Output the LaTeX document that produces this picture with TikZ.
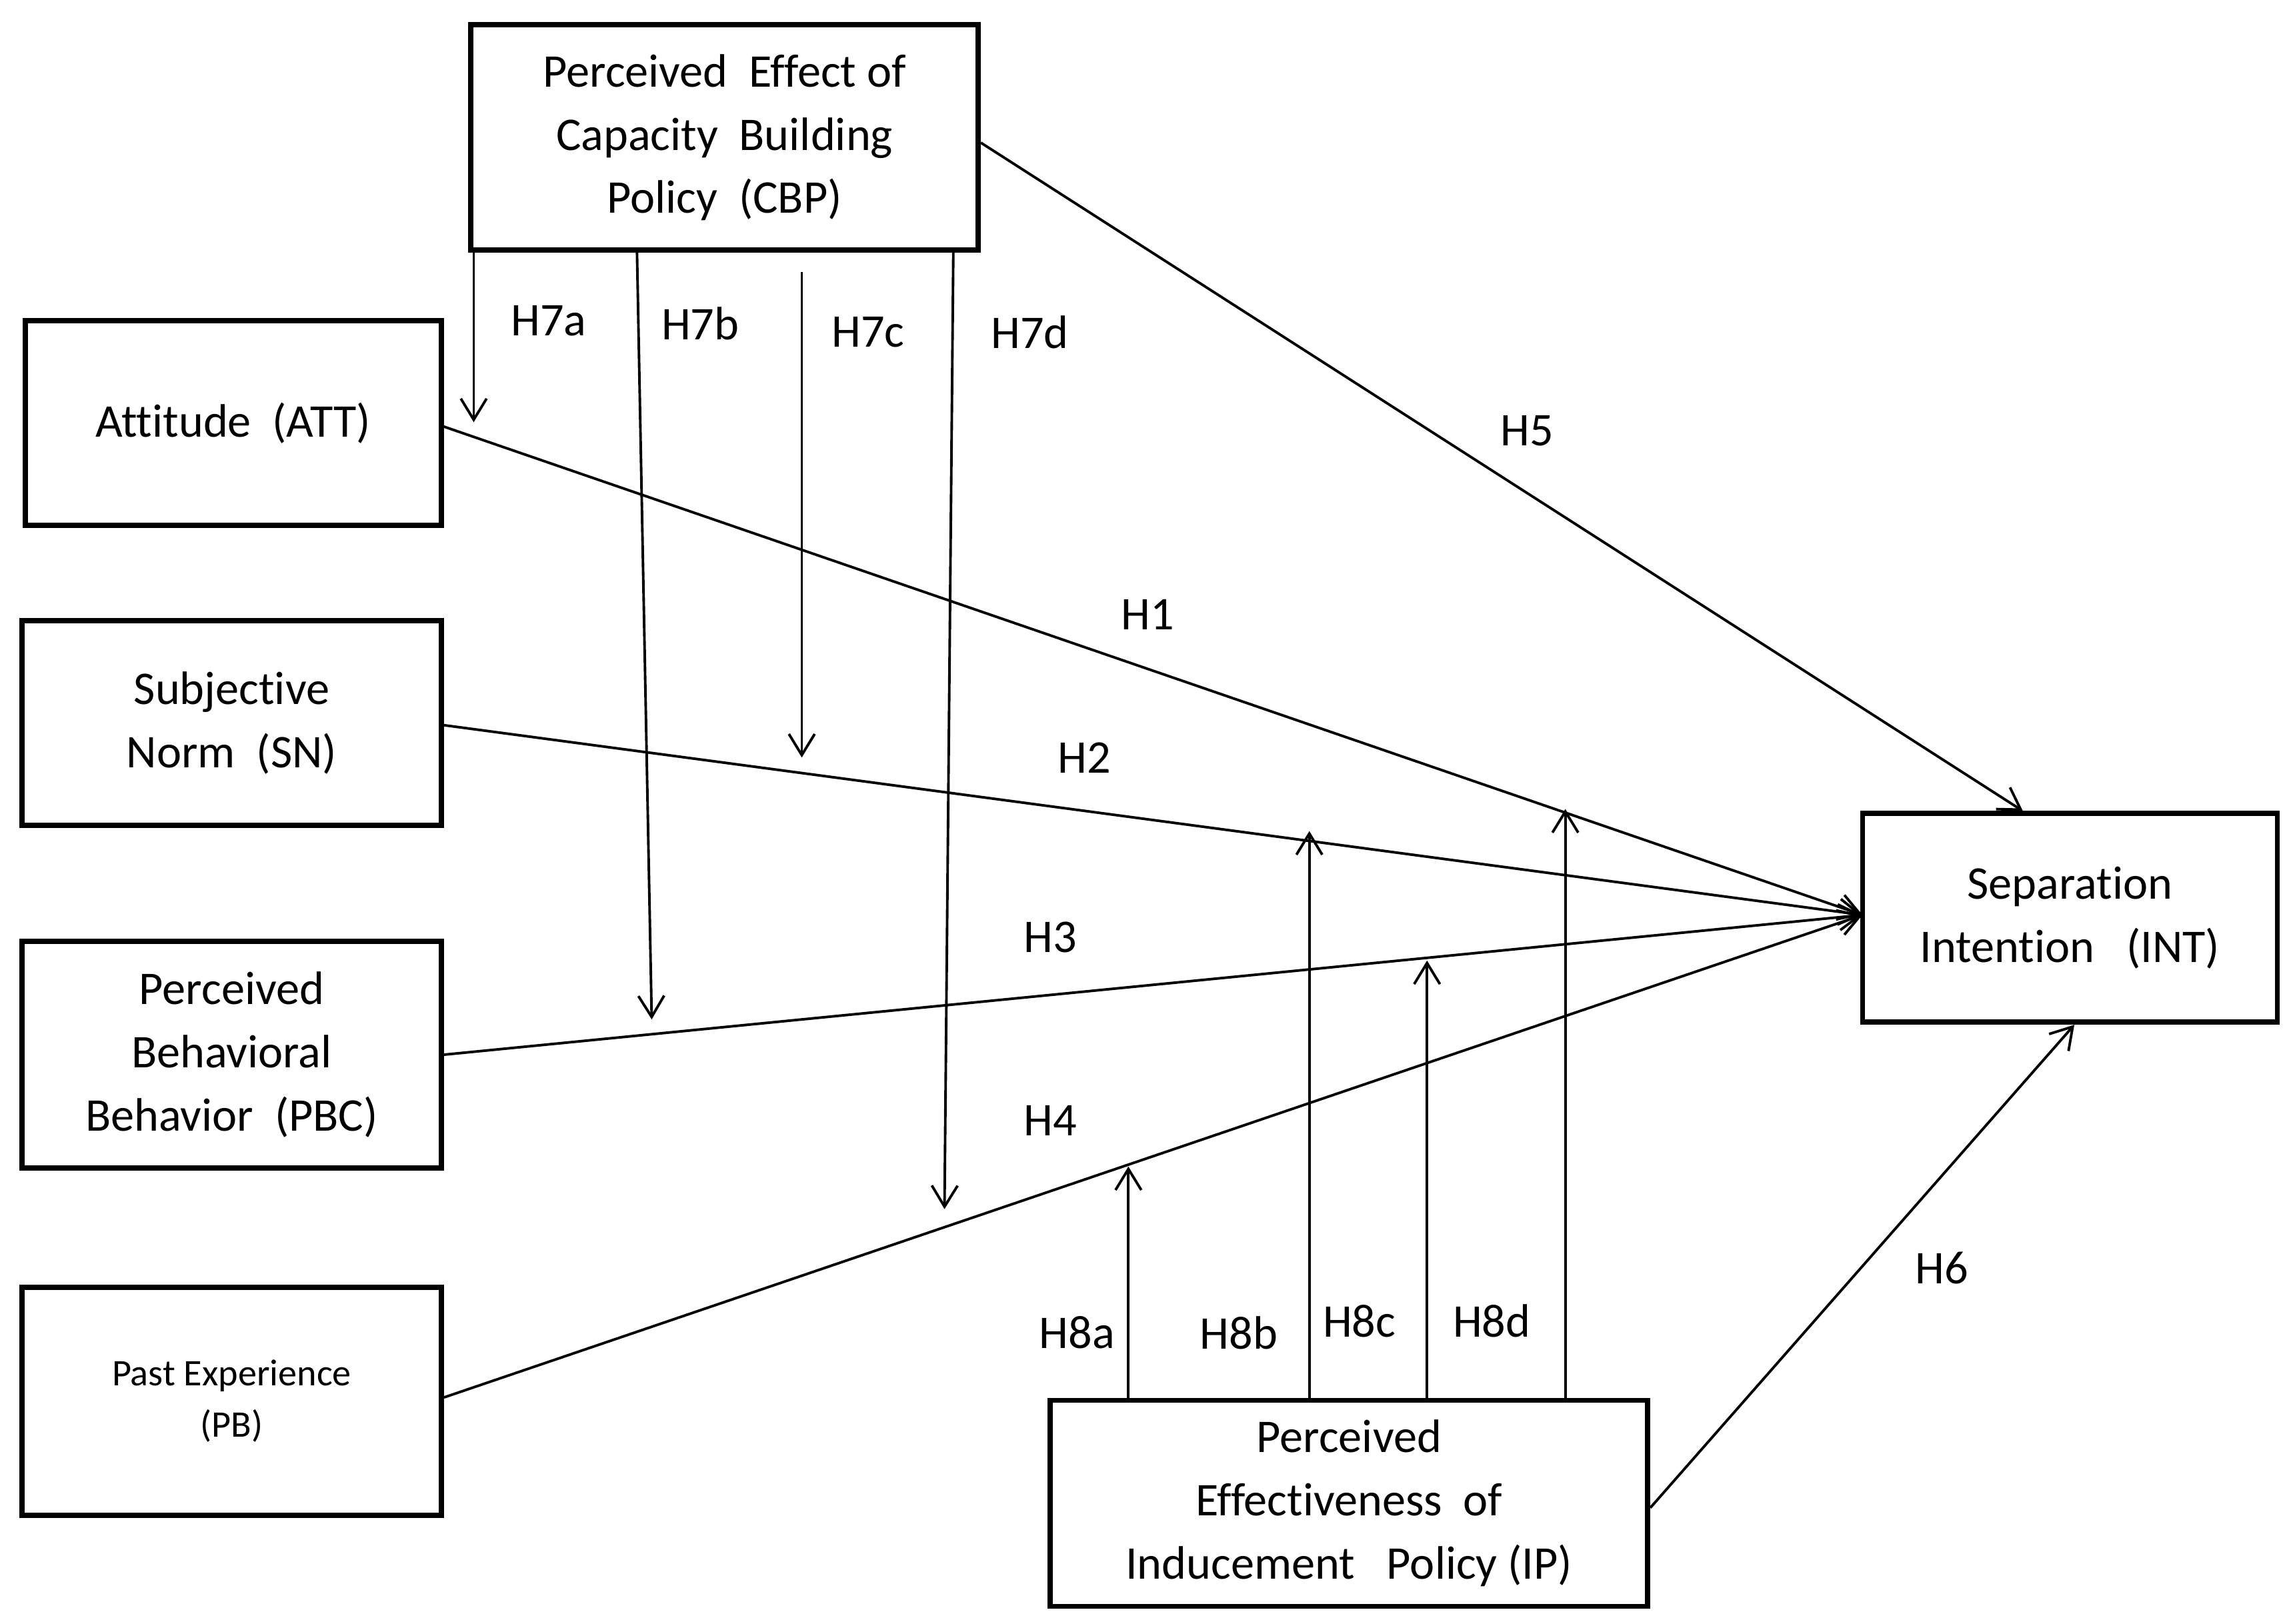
\documentclass[tikz,border=0pt]{standalone}
\usepackage{fontspec}
\setmainfont{Carlito}[Ligatures=NoCommon]
\usetikzlibrary{arrows.meta}
\begin{document}
\begin{tikzpicture}[x=0.02206cm,y=-0.02206cm,
 box/.style={draw,line width=2.2pt,inner sep=0,align=center,font=\fontsize{20}{27}\selectfont},
 arr/.style={line width=1.1pt,-{Straight Barb[length=9pt,width=11pt]}},
 lab/.style={font=\fontsize{20}{22}\selectfont}]
\useasboundingbox (0,0) rectangle (1560,1104);
\node[box,minimum width=7.61cm,minimum height=3.38cm] (cbp) at (492.5,93.5) {Perceived\ \ Effect of\\Capacity\ \ Building\\Policy\ \ (CBP)};
\node[box,minimum width=6.24cm,minimum height=3.07cm] (att) at (158.5,287.5) {Attitude\ \ (ATT)};
\node[box,minimum width=6.29cm,minimum height=3.07cm] (sn) at (157.5,491.5) {Subjective\\Norm\ \ (SN)};
\node[box,minimum width=6.29cm,minimum height=3.40cm] (pbc) at (157.5,717) {Perceived\\Behavioral\\Behavior\ \ (PBC)};
\node[box,minimum width=6.29cm,minimum height=3.42cm,font=\fontsize{16}{22}\selectfont] (pb) at (157.5,952.5) {Past Experience\\(PB)};
\node[box,minimum width=6.22cm,minimum height=3.13cm] (int) at (1407,624) {Separation\\Intention\ \ \ (INT)};
\node[box,minimum width=8.96cm,minimum height=3.09cm] (ip) at (917,1022) {Perceived\\Effectiveness\ \ of\\Inducement\ \ \ Policy\ (IP)};
\coordinate (e) at (1266,622);
\draw[arr] (att.east |- 0,290) -- (e);
\draw[arr] (sn.east |- 0,493) -- (e);
\draw[arr] (pbc.east |- 0,717) -- (e);
\draw[arr] (pb.east |- 0,950) -- (e);
\draw[arr] (cbp.east |- 0,97) -- (int.north -| 1375,0);
\draw[arr] (ip.east |- 0,1025) -- (int.south -| 1410,0);
\coordinate (a1) at (322,287); \coordinate (a2) at (443,693);
\coordinate (a3) at (545,515); \coordinate (a4) at (642,822);
\draw[arr] (cbp.south -| 322,0) -- (a1);
\draw[arr] (cbp.south -| 433,0) -- (a2);
\draw[arr] (545,185) -- (a3);
\draw[arr] (cbp.south -| 648,0) -- (a4);
\coordinate (b1) at (767,793); \coordinate (b2) at (890,565);
\coordinate (b3) at (970,653); \coordinate (b4) at (1064,550);
\draw[arr] (ip.north -| b1) -- (b1);
\draw[arr] (ip.north -| b2) -- (b2);
\draw[arr] (ip.north -| b3) -- (b3);
\draw[arr] (ip.north -| b4) -- (b4);
\node[lab] at (373,218) {H7a};
\node[lab] at (476,220) {H7b};
\node[lab] at (590,226) {H7c};
\node[lab] at (700,226) {H7d};
\node[lab] at (1038,293) {H5};
\node[lab] at (780,418) {H1};
\node[lab] at (737,515) {H2};
\node[lab] at (714,637) {H3};
\node[lab] at (714,762) {H4};
\node[lab] at (1320,862) {H6};
\node[lab] at (732,906) {H8a};
\node[lab] at (842,906) {H8b};
\node[lab] at (924,898) {H8c};
\node[lab] at (1014,898) {H8d};
\end{tikzpicture}
\end{document}
